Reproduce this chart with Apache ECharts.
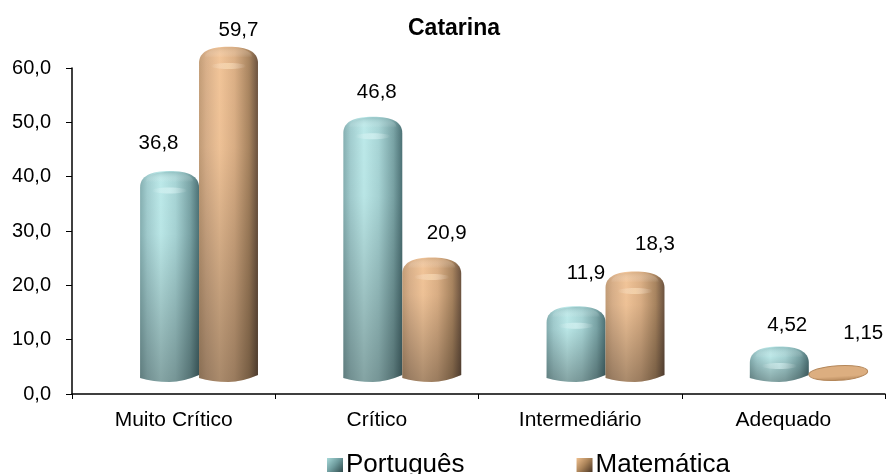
<!DOCTYPE html>
<html><head><meta charset="utf-8">
<style>html,body{margin:0;padding:0;background:#fff}#c{width:886px;height:474px}</style>
<script src="https://cdn.jsdelivr.net/npm/echarts@6/dist/echarts.min.js"></script>
</head><body><div id="c"></div>
<script>
var categories = ['Muito Crítico', 'Crítico', 'Intermediário', 'Adequado'];
var portugues = [36.8, 46.8, 11.9, 4.52];
var matematica = [59.7, 20.9, 18.3, 1.15];
var yTicks = {min: 0, max: 60, interval: 10};

// label nudges relative to bar top, as in the reference's hand-placed labels
var nudgePt = [[-11, -40], [4, -36], [10, -45], [8, -33]];
var nudgeMt = [[10, -28], [15, -36], [20, -39], [25, -40]];

var tealPalette = {stops:['#86b0b2','#a2cdcf','#bdeaea','#a8d5d6','#7aa4a6','#4d7276'],
  capTop:'rgba(120,170,172,0.5)', hi:'rgba(225,250,250,0.55)', flatTop:'#a4d2d3', flatBot:'#6f9c9e'};
var tanPalette = {stops:['#c39d77','#d9b08a','#f2c599','#dcb086','#a98560','#6c5340'],
  capTop:'rgba(205,165,125,0.5)', hi:'rgba(255,228,190,0.55)', flatTop:'#dcae80', flatBot:'#b4875a'};

var FONT = '"Liberation Sans", Arial, sans-serif';
var fmt = function (v) { return String(v).replace('.', ','); };

function cylinder(side, pal, nudges) {
  return function (params, api) {
    var i = api.value(0), v = api.value(1);
    var band = api.size([1, 0])[0];
    var c = api.coord([i, v]);
    var base = api.coord([i, 0]);
    var w = band * 0.29, rx = w / 2;
    var cx = c[0] + band * 0.125 + side * (w / 2);
    var l = cx - rx, r = cx + rx;
    var bottom = base[1] - 12;
    var topC = c[1] - 11;
    var ry = Math.max(9, Math.min(12, bottom - topC));
    topC = Math.min(topC, bottom - ry);
    var flat = bottom - topC <= 10;
    var kids = [];
    if (flat) {
      kids.push({type: 'ellipse', shape: {cx: cx, cy: topC, rx: rx, ry: ry * 0.82},
        rotation: 0.06, originX: cx, originY: topC,
        style: {fill: {type: 'linear', x: 0, y: 0, x2: 0, y2: 1, colorStops: [
          {offset: 0, color: pal.flatTop}, {offset: 0.7, color: pal.flatTop}, {offset: 1, color: pal.flatBot}]},
          stroke: pal.flatBot, lineWidth: 1}});
    } else {
      var sh = topC + ry * 0.35;
      var d = 'M' + l + ' ' + (bottom - 4) +
        ' L' + l + ' ' + sh +
        ' C' + l + ' ' + (topC - ry * 0.55) + ' ' + (cx - rx * 0.65) + ' ' + (topC - ry) + ' ' + cx + ' ' + (topC - ry) +
        ' C' + (cx + rx * 0.65) + ' ' + (topC - ry) + ' ' + r + ' ' + (topC - ry * 0.55) + ' ' + r + ' ' + sh +
        ' L' + r + ' ' + (bottom - 7) +
        ' Q' + (cx + rx * 0.45) + ' ' + bottom + ' ' + cx + ' ' + bottom +
        ' Q' + (cx - rx * 0.55) + ' ' + bottom + ' ' + l + ' ' + (bottom - 4) + ' Z';
      var pos = [0, 0.12, 0.35, 0.6, 0.85, 1];
      kids.push({type: 'path', shape: {pathData: d}, style: {
        fill: {type: 'linear', x: 0, y: 0, x2: 1, y2: 0, colorStops: pal.stops.map(function (col, k) {
          return {offset: pos[k], color: col}; })}
      }});
      kids.push({type: 'path', shape: {pathData: d}, style: {
        fill: {type: 'linear', x: 0, y: 0, x2: 0, y2: 1, colorStops: [
          {offset: 0, color: 'rgba(0,0,0,0)'}, {offset: 0.3, color: 'rgba(0,0,0,0.02)'},
          {offset: 1, color: 'rgba(0,0,0,0.30)'}]}
      }});
      kids.push({type: 'ellipse', shape: {cx: cx, cy: topC - 2, rx: rx * 0.8, ry: ry * 0.78}, style: {
        fill: {type: 'linear', x: 0, y: 0, x2: 0, y2: 1, colorStops: [
          {offset: 0, color: pal.capTop}, {offset: 0.55, color: 'rgba(255,255,255,0)'}, {offset: 1, color: 'rgba(255,255,255,0)'}]}
      }});
      kids.push({type: 'ellipse', shape: {cx: cx, cy: topC + ry * 0.62, rx: rx * 0.6, ry: 3}, style: {
        fill: {type: 'linear', x: 0, y: 0, x2: 1, y2: 0, colorStops: [
          {offset: 0, color: 'rgba(255,255,255,0)'}, {offset: 0.5, color: pal.hi}, {offset: 1, color: 'rgba(255,255,255,0)'}]}
      }});
    }
    var n = nudges[i];
    kids.push({type: 'text', style: {
      x: cx + n[0], y: topC + n[1], text: fmt(v), align: 'center', verticalAlign: 'middle',
      font: '20.5px ' + FONT, fill: '#000'
    }});
    return {type: 'group', children: kids};
  };
}
function rows(a) { return a.map(function (v, i) { return [i, v]; }); }
function icon(c1, c2, c3) {
  return {type: 'linear', x: 0, y: 0, x2: 1, y2: 1, colorStops: [
    {offset: 0, color: c1}, {offset: 0.5, color: c2}, {offset: 1, color: c3}]};
}
var ptIcon = icon('#a8dada', '#6d9a9c', '#2f4a4c');
var mtIcon = icon('#f0c08e', '#a98258', '#4a3524');

var chart = echarts.init(document.getElementById('c'), null, {renderer: 'canvas'});
chart.setOption({
  animation: false,
  backgroundColor: '#fff',
  title: {text: 'Catarina', left: 403, top: 12,
    textStyle: {fontFamily: FONT, fontSize: 23, fontWeight: 'bold', color: '#000'}},
  grid: {left: 72, right: 1, top: 68, bottom: 80},
  legend: {left: 327, top: 452, padding: 0, itemWidth: 16, itemHeight: 14, itemGap: 112,
    textStyle: {fontFamily: FONT, fontSize: 26, color: '#000', padding: [0, 0, 0, -2]},
    data: [{name: 'Português', icon: 'rect', itemStyle: {color: ptIcon}},
           {name: 'Matemática', icon: 'rect', itemStyle: {color: mtIcon}}]},
  xAxis: {type: 'category', data: categories, boundaryGap: true,
    axisLine: {lineStyle: {color: '#000', width: 1.5}},
    axisTick: {show: true, alignWithLabel: false, length: 5, lineStyle: {color: '#000'}},
    axisLabel: {fontFamily: FONT, fontSize: 21, color: '#000', margin: 16}},
  yAxis: {type: 'value', min: yTicks.min, max: yTicks.max, interval: yTicks.interval,
    splitLine: {show: false},
    axisLine: {show: true, lineStyle: {color: '#000', width: 1.5}},
    axisTick: {show: true, length: 6, lineStyle: {color: '#000'}},
    axisLabel: {fontFamily: FONT, fontSize: 20, color: '#000', margin: 21,
      formatter: function (v) { return v.toFixed(1).replace('.', ','); }}},
  series: [
    {name: 'Português', type: 'custom', data: rows(portugues), encode: {x: 0, y: 1},
      itemStyle: {color: '#8fbcbd'}, renderItem: cylinder(-1, tealPalette, nudgePt), clip: false},
    {name: 'Matemática', type: 'custom', data: rows(matematica), encode: {x: 0, y: 1},
      itemStyle: {color: '#d0a57c'}, renderItem: cylinder(1, tanPalette, nudgeMt), clip: false}
  ]
});
</script></body></html>
